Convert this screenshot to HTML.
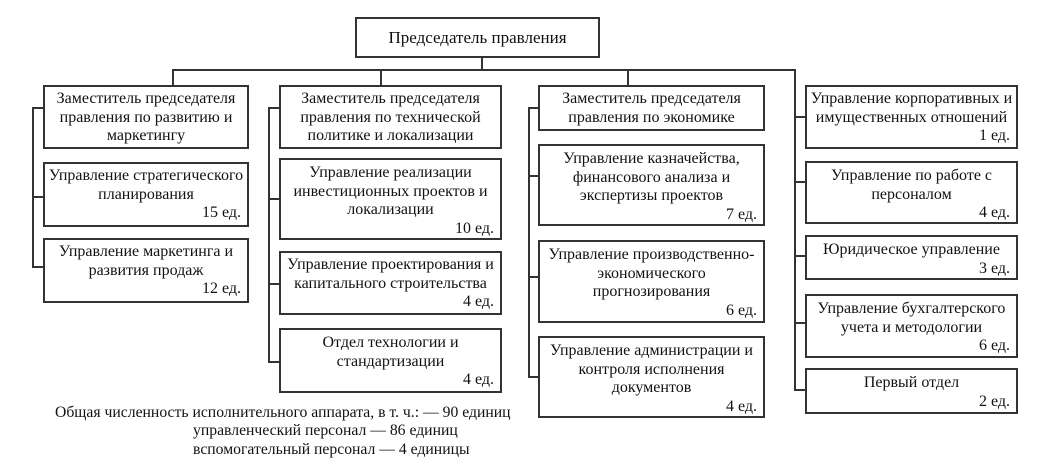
<!DOCTYPE html>
<html>
<head>
<meta charset="utf-8">
<style>
  html, body { margin:0; padding:0; background:#fff; }
  body { width:1037px; height:473px; position:relative; overflow:hidden;
         font-family:"Liberation Serif", "Times New Roman", serif; color:#111; }
  .b { position:absolute; box-sizing:border-box; border:2px solid #333; background:#fff;
       font-size:16px; line-height:18.5px; text-align:center; padding-top:3px; }
  .b .r { text-align:right; padding-right:6px; }
  svg { position:absolute; left:0; top:0; }
  .ft { position:absolute; font-size:15.7px; line-height:18.5px; white-space:nowrap; }
</style>
</head>
<body>
<svg width="1037" height="473">
  <g stroke="#333" stroke-width="2" fill="none">
    <line x1="482" y1="57" x2="482" y2="70"/>
    <line x1="172" y1="70" x2="796" y2="70"/>
    <line x1="173" y1="70" x2="173" y2="85"/>
    <line x1="381" y1="70" x2="381" y2="85"/>
    <line x1="628" y1="70" x2="628" y2="85"/>
    <!-- col1 -->
    <line x1="33" y1="107" x2="33" y2="268"/>
    <line x1="32" y1="108" x2="43" y2="108"/>
    <line x1="32" y1="197" x2="43" y2="197"/>
    <line x1="32" y1="267" x2="43" y2="267"/>
    <!-- col2 -->
    <line x1="269" y1="107" x2="269" y2="363"/>
    <line x1="268" y1="108" x2="279" y2="108"/>
    <line x1="268" y1="199" x2="279" y2="199"/>
    <line x1="268" y1="284" x2="279" y2="284"/>
    <line x1="268" y1="362" x2="279" y2="362"/>
    <!-- col3 -->
    <line x1="529" y1="107" x2="529" y2="378"/>
    <line x1="528" y1="108" x2="538" y2="108"/>
    <line x1="528" y1="176" x2="538" y2="176"/>
    <line x1="528" y1="277" x2="538" y2="277"/>
    <line x1="528" y1="377" x2="538" y2="377"/>
    <!-- col4 -->
    <line x1="795" y1="69" x2="795" y2="391"/>
    <line x1="794" y1="117" x2="805" y2="117"/>
    <line x1="794" y1="182" x2="805" y2="182"/>
    <line x1="794" y1="256" x2="805" y2="256"/>
    <line x1="794" y1="323" x2="805" y2="323"/>
    <line x1="794" y1="390" x2="805" y2="390"/>
  </g>
</svg>

<div class="b" style="left:355px;top:17px;width:245px;height:41px;font-size:17px;line-height:38px;padding-top:0;">Председатель правления</div>

<!-- Column 1 -->
<div class="b" style="left:43px;top:85px;width:206px;height:64px;">Заместитель председателя<br>правления по развитию и<br>маркетингу</div>
<div class="b" style="left:43px;top:162px;width:206px;height:65px;">Управление стратегического<br>планирования<div class="r">15 ед.</div></div>
<div class="b" style="left:43px;top:238px;width:206px;height:65px;">Управление маркетинга и<br>развития продаж<div class="r">12 ед.</div></div>

<!-- Column 2 -->
<div class="b" style="left:279px;top:85px;width:223px;height:64px;">Заместитель председателя<br>правления по технической<br>политике и локализации</div>
<div class="b" style="left:279px;top:158px;width:223px;height:82px;padding-top:4px;">Управление реализации<br>инвестиционных проектов и<br>локализации<div class="r">10 ед.</div></div>
<div class="b" style="left:279px;top:251px;width:223px;height:64px;">Управление проектирования и<br>капитального строительства<div class="r">4 ед.</div></div>
<div class="b" style="left:279px;top:328px;width:223px;height:65px;padding-top:4px;">Отдел технологии и<br>стандартизации<div class="r">4 ед.</div></div>

<!-- Column 3 -->
<div class="b" style="left:538px;top:85px;width:227px;height:46px;">Заместитель председателя<br>правления по экономике</div>
<div class="b" style="left:538px;top:144px;width:227px;height:82px;padding-top:4px;">Управление казначейства,<br>финансового анализа и<br>экспертизы проектов<div class="r">7 ед.</div></div>
<div class="b" style="left:538px;top:240px;width:227px;height:83px;padding-top:4px;">Управление производственно-<br>экономического<br>прогнозирования<div class="r">6 ед.</div></div>
<div class="b" style="left:538px;top:336px;width:227px;height:82px;padding-top:4px;">Управление администрации и<br>контроля исполнения<br>документов<div class="r">4 ед.</div></div>

<!-- Column 4 -->
<div class="b" style="left:805px;top:85px;width:213px;height:64px;">Управление корпоративных и<br>имущественных отношений<div class="r">1 ед.</div></div>
<div class="b" style="left:805px;top:161px;width:213px;height:63px;padding-top:4px;">Управление по работе с<br>персоналом<div class="r">4 ед.</div></div>
<div class="b" style="left:805px;top:235px;width:213px;height:45px;padding-top:4px;">Юридическое управление<div class="r">3 ед.</div></div>
<div class="b" style="left:805px;top:294px;width:213px;height:64px;padding-top:4px;">Управление бухгалтерского<br>учета и методологии<div class="r">6 ед.</div></div>
<div class="b" style="left:805px;top:368px;width:213px;height:46px;padding-top:4px;">Первый отдел<div class="r">2 ед.</div></div>

<!-- Footer -->
<div class="ft" style="left:55px;top:404px;">Общая численность исполнительного аппарата, в т. ч.: — 90 единиц</div>
<div class="ft" style="left:193px;top:422px;">управленческий персонал — 86 единиц</div>
<div class="ft" style="left:193px;top:441px;">вспомогательный персонал — 4 единицы</div>
</body>
</html>
